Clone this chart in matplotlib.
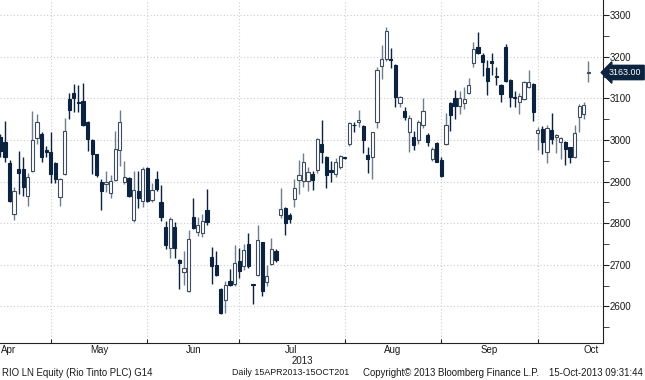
import matplotlib
matplotlib.use("Agg")
import matplotlib.pyplot as plt
from matplotlib.ticker import MultipleLocator, FixedLocator, NullFormatter

# RIO LN daily candles, 15 Apr 2013 - 15 Oct 2013
opens = [3008, 2994, 2944, 2821, 2930, 2930, 2866, 2925, 3005, 3014,
         2975, 2970, 2944, 2864, 2918, 3098, 3112, 3092, 3093, 3044,
         3000, 2965, 2900, 2894, 2872, 2904, 2976, 2898, 2909, 2808,
         2878, 2854, 2933, 2856, 2906, 2850, 2790, 2740, 2790, 2712,
         2682, 2636, 2814, 2780, 2776, 2832, 2719, 2700, 2642, 2616,
         2662, 2654, 2710, 2696, 2750, 2652, 2676, 2754, 2658, 2702,
         2734, 2820, 2836, 2820, 2858, 2904, 2902, 2902, 2918, 2928,
         2990, 2958, 2928, 2918, 2936, 2958, 2990, 3037, 3044, 3034,
         2964, 2958, 3044, 3178, 3194, 3195, 3180, 3088, 3070, 3020,
         3006, 3000, 3036, 3012, 2954, 2992, 2952, 2990, 3088, 3100,
         3082, 3088, 3112, 3184, 3222, 3204, 3172, 3190, 3153, 3132,
         3224, 3144, 3103, 3090, 3098, 3128, 3134, 3016, 3026, 2970,
         3024, 3006, 2996, 2996, 2982, 2960, 3054, 3062, 3160]
highs = [3015, 3045, 2952, 2888, 2973, 2958, 2920, 3069, 3062, 3018,
         2985, 3018, 2946, 2908, 3053, 3112, 3134, 3133, 3137, 3046,
         3002, 2967, 2906, 2925, 2916, 3022, 3072, 2950, 2912, 2925,
         2925, 2936, 2936, 2896, 2926, 2892, 2806, 2814, 2802, 2714,
         2734, 2784, 2860, 2816, 2821, 2882, 2743, 2733, 2644, 2660,
         2690, 2748, 2740, 2751, 2776, 2653, 2795, 2756, 2699, 2764,
         2738, 2884, 2838, 2824, 2907, 2952, 2968, 2936, 2925, 3004,
         3048, 2962, 2950, 2956, 2964, 2960, 3042, 3044, 3072, 3036,
         2984, 3020, 3176, 3228, 3272, 3220, 3182, 3106, 3080, 3060,
         3022, 3048, 3100, 3016, 2984, 2994, 2958, 3064, 3090, 3120,
         3118, 3128, 3148, 3234, 3258, 3208, 3192, 3208, 3176, 3134,
         3230, 3146, 3118, 3112, 3142, 3168, 3136, 3032, 3034, 3036,
         3064, 3014, 3006, 2998, 2984, 3036, 3086, 3092, 3190]
lows = [2960, 2946, 2850, 2808, 2870, 2866, 2842, 2923, 2989, 2946,
        2960, 2896, 2896, 2842, 2916, 3050, 3066, 3066, 3034, 2974,
        2917, 2912, 2832, 2875, 2860, 2902, 2938, 2893, 2862, 2802,
        2837, 2840, 2850, 2850, 2878, 2806, 2738, 2716, 2716, 2642,
        2652, 2634, 2786, 2770, 2768, 2796, 2655, 2672, 2582, 2584,
        2648, 2648, 2668, 2687, 2692, 2607, 2674, 2626, 2650, 2700,
        2706, 2812, 2771, 2800, 2839, 2870, 2886, 2878, 2880, 2920,
        2945, 2884, 2900, 2910, 2930, 2955, 2986, 3020, 3030, 2968,
        2920, 2906, 3028, 3146, 3190, 3172, 3078, 3078, 3048, 2972,
        2976, 2990, 3028, 2985, 2950, 2948, 2912, 2988, 3022, 3050,
        3062, 3074, 3110, 3176, 3206, 3154, 3108, 3156, 3132, 3090,
        3140, 3078, 3078, 3062, 3096, 3124, 3046, 2976, 2966, 2944,
        2990, 2968, 2954, 2940, 2944, 2956, 3020, 3050, 3138]
closes = [2974, 2960, 2853, 2878, 2920, 2888, 2910, 3000, 3042, 2958,
          2970, 2918, 2906, 2906, 3022, 3072, 3101, 3088, 3037, 3002,
          2966, 2916, 2878, 2900, 2902, 2978, 3042, 2912, 2866, 2880,
          2861, 2930, 2854, 2880, 2882, 2816, 2748, 2810, 2740, 2704,
          2692, 2762, 2788, 2796, 2806, 2802, 2697, 2675, 2584, 2652,
          2652, 2704, 2686, 2736, 2696, 2651, 2759, 2638, 2672, 2739,
          2712, 2834, 2800, 2809, 2884, 2916, 2946, 2922, 2904, 3001,
          2972, 2916, 2922, 2946, 2962, 2957, 3040, 3035, 3048, 3000,
          2954, 3018, 3168, 3194, 3262, 3193, 3102, 3104, 3056, 3052,
          2988, 3044, 3070, 2994, 2978, 2948, 2914, 3036, 3060, 3082,
          3100, 3098, 3132, 3218, 3208, 3186, 3142, 3184, 3151, 3110,
          3142, 3102, 3101, 3106, 3140, 3140, 3068, 3024, 2996, 3028,
          3002, 3012, 3004, 2978, 2960, 3016, 3082, 3084, 3163]

month_names = ["Apr", "May", "Jun", "Jul", "Aug", "Sep", "Oct"]
month_ends = [11, 32, 52, 75, 96, 117]   # last trading day of each month
last_price = "3163.00"

navy = "#0c2340"
white_edge = "#3e4c5e"
white_wick = "#6f7d8c"

W, H = 645, 380
fig = plt.figure(figsize=(6.45, 3.8), dpi=100)
ax = fig.add_axes([0, 1 - 342.7 / H, 603 / W, 342.7 / H])

for i in range(len(opens)):
    o, h, l, c = opens[i], highs[i], lows[i], closes[i]
    up = c >= o
    wc = white_wick if up else navy
    ax.vlines(i, l, h, color=wc, lw=1.0, zorder=2)
    bottom = min(o, c)
    height = max(abs(c - o), 1.8)
    ax.bar(i, height, bottom=bottom, width=0.7,
           color="white" if up else navy,
           edgecolor=white_edge if up else navy, linewidth=0.8, zorder=3)

ax.set_xlim(-0.07, 131.2)
ax.set_ylim(2513, 3336)

# grid
for m in month_ends:
    ax.axvline(m, color="#cccccc", ls=(0, (1, 2)), lw=0.8, zorder=0)
for p in range(2600, 3301, 100):
    ax.axhline(p, color="#cccccc", ls=(0, (1, 2)), lw=0.8, zorder=0)

# axes styling
ax.spines["top"].set_visible(False)
ax.spines["left"].set_visible(False)
ax.spines["right"].set_color("#222222")
ax.spines["bottom"].set_color("#222222")
ax.yaxis.tick_right()
ax.yaxis.set_major_locator(MultipleLocator(100))
ax.yaxis.set_minor_locator(MultipleLocator(50))
ax.tick_params(axis="y", which="both", direction="out", length=4,
               color="#222222", labelsize=7, pad=1, labelcolor="#1a1a1a")
ax.yaxis.set_minor_formatter(NullFormatter())
for lab in ax.get_yticklabels():
    lab.set_family("Liberation Sans")
ax.xaxis.set_major_locator(FixedLocator(month_ends))
ax.xaxis.set_major_formatter(NullFormatter())
ax.tick_params(axis="x", direction="in", length=3, color="#222222")

# month labels centred in each month
label_pos = [0.2, 21.5, 42, 63.2, 85.5, 106.5, 128.5]
for name, pos in zip(month_names, label_pos):
    xf = (0.3 + 4.594 * pos) / W
    fig.text(xf if name != "Apr" else 1 / W, 1 - 350 / H, name,
             ha="left" if name == "Apr" else "center", va="center",
             fontsize=7, family="Liberation Sans", color="#1a1a1a")
fig.text(302 / W, 1 - 361 / H, "2013", ha="center", va="center",
         fontsize=7, family="Liberation Sans", color="#1a1a1a")

# last price tag
fig.text(609 / W, 1 - 72.5 / H, last_price, ha="left", va="center",
         fontsize=6.4, family="Liberation Sans", color="white",
         bbox=dict(boxstyle="larrow,pad=0.3", fc=navy, ec=navy))

# footer
fy = 1 - 372.5 / H
ft = dict(family="Liberation Sans", color="#1a1a1a", va="center")
fig.text(2 / W, fy, "RIO LN Equity (Rio Tinto PLC) G14", ha="left",
         fontsize=6.9, **ft)
fig.text(232 / W, fy, "Daily 15APR2013-15OCT201", ha="left",
         fontsize=6.4, **ft)
fig.text(363 / W, fy, "Copyright\u00a9 2013 Bloomberg Finance L.P.", ha="left",
         fontsize=6.9, **ft)
fig.text(643 / W, fy, "15-Oct-2013 09:31:44", ha="right", fontsize=6.9, **ft)

fig.savefig("out.png", dpi=100)
